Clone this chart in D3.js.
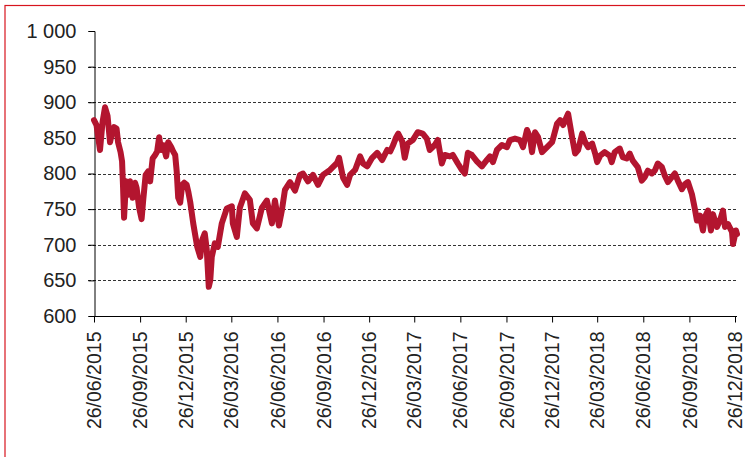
<!DOCTYPE html>
<html><head><meta charset="utf-8">
<script src="https://cdn.jsdelivr.net/npm/d3@7"></script>
<style>
html,body{margin:0;padding:0;background:#fff;}
svg{display:block;}
</style></head>
<body>
<svg id="chart" width="745" height="457"></svg>
<script>
// ---- data ----
const dates = [
"2015-06-26","2015-07-01","2015-07-08","2015-07-13","2015-07-18","2015-07-23","2015-07-28","2015-07-31",
"2015-08-05","2015-08-10","2015-08-13","2015-08-18","2015-08-21","2015-08-23","2015-08-25","2015-08-29",
"2015-09-02","2015-09-06","2015-09-11","2015-09-16","2015-09-19","2015-09-24","2015-09-29","2015-10-02",
"2015-10-07","2015-10-12","2015-10-16","2015-10-21","2015-10-26","2015-10-30","2015-11-03","2015-11-07",
"2015-11-11","2015-11-17","2015-11-21","2015-11-27","2015-12-01","2015-12-05","2015-12-08","2015-12-11",
"2015-12-15","2015-12-19","2015-12-23","2015-12-28","2015-12-31","2016-01-04","2016-01-10","2016-01-18",
"2016-01-24","2016-01-28","2016-02-02","2016-02-06","2016-02-10","2016-02-13","2016-02-16","2016-02-22",
"2016-02-28","2016-03-07","2016-03-17","2016-03-27","2016-03-29","2016-04-06","2016-04-12","2016-04-22",
"2016-05-02","2016-05-08","2016-05-16","2016-05-26","2016-06-05","2016-06-11","2016-06-15","2016-06-21",
"2016-06-29","2016-07-05","2016-07-11","2016-07-21","2016-07-31","2016-08-10","2016-08-16","2016-08-26",
"2016-09-05","2016-09-15","2016-09-25","2016-10-09","2016-10-23","2016-10-27","2016-11-04","2016-11-12",
"2016-11-18","2016-11-28","2016-12-08","2016-12-14","2016-12-22","2017-01-01","2017-01-11","2017-01-21",
"2017-01-31","2017-02-06","2017-02-12","2017-02-18","2017-02-22","2017-03-02","2017-03-07","2017-03-13",
"2017-03-23","2017-04-02","2017-04-12","2017-04-20","2017-04-26","2017-05-06","2017-05-12","2017-05-20",
"2017-05-26","2017-06-05","2017-06-11","2017-06-21","2017-06-29","2017-07-05","2017-07-11","2017-07-19",
"2017-07-29","2017-08-08","2017-08-18","2017-08-24","2017-08-30","2017-09-07","2017-09-17","2017-09-27",
"2017-10-03","2017-10-13","2017-10-23","2017-10-29","2017-11-06","2017-11-12","2017-11-16","2017-11-22",
"2017-11-28","2017-12-06","2017-12-16","2017-12-26","2017-12-28","2018-01-05","2018-01-11","2018-01-17",
"2018-01-27","2018-02-04","2018-02-10","2018-02-16","2018-02-24","2018-03-02","2018-03-08","2018-03-16",
"2018-03-22","2018-03-26","2018-04-01","2018-04-10","2018-04-20","2018-04-24","2018-04-30","2018-05-10",
"2018-05-16","2018-05-24","2018-05-30","2018-06-05","2018-06-15","2018-06-23","2018-06-29","2018-07-05",
"2018-07-13","2018-07-19","2018-07-25","2018-08-02","2018-08-08","2018-08-14","2018-08-22","2018-08-28",
"2018-09-03","2018-09-11","2018-09-17","2018-09-23","2018-10-01","2018-10-07","2018-10-11","2018-10-17",
"2018-10-23","2018-10-27","2018-11-02","2018-11-08","2018-11-12","2018-11-20","2018-11-26","2018-12-02",
"2018-12-06","2018-12-12","2018-12-20","2018-12-22","2018-12-28","2018-12-30"
];
const values = [
875,868,833,872,893,881,844,854,
865,863,844,830,817,780,738,789,
770,789,766,787,780,752,736,761,
798,803,789,821,826,831,851,833,
840,824,844,837,831,826,803,766,
759,784,787,784,775,760,730,697,
683,707,716,693,641,650,683,702,
697,730,751,754,730,711,752,772,
763,730,723,752,762,743,730,762,
727,749,777,788,776,798,800,789,
798,784,798,805,815,822,794,784,
798,805,824,814,810,822,829,819,
833,831,840,851,856,845,822,842,
847,858,856,849,833,840,847,814,
826,824,826,814,805,800,829,826,
817,810,819,824,816,833,840,837,
847,849,847,837,861,851,830,858,
851,830,837,844,849,870,875,868,
884,851,828,833,856,844,837,842,
828,816,825,830,825,816,830,835,
823,821,828,818,809,790,795,804,
800,804,814,809,797,788,795,800,
790,778,785,788,771,750,734,741,
720,739,748,720,743,725,734,748,
725,729,718,701,720,715
];
const yTicks = [600,650,700,750,800,850,900,950,1000];
const xTickDates = ["2015-06-26","2015-09-26","2015-12-26","2016-03-26","2016-06-26","2016-09-26","2016-12-26",
"2017-03-26","2017-06-26","2017-09-26","2017-12-26","2018-03-26","2018-06-26","2018-09-26","2018-12-26"];

// ---- drawing ----
const parse = d3.timeParse("%Y-%m-%d");
const fmt = d3.timeFormat("%d/%m/%Y");
const data = dates.map((d,i)=>({date:parse(d), value:values[i]}));
const svg = d3.select("#chart");

svg.append("rect").attr("x",5).attr("y",5.5).attr("width",760).attr("height",470)
  .attr("fill","none").attr("stroke","#d7141e").attr("stroke-width",1.2);

const x = d3.scaleTime().domain([parse("2015-06-26"), parse("2018-12-26")]).range([94, 735]);
const y = d3.scaleLinear().domain([600,1000]).range([316, 31]);

// gridlines
svg.append("g").selectAll("line").data(yTicks.filter(v=>v>600 && v<1000)).join("line")
  .attr("x1",88).attr("x2",737)
  .attr("y1",d=>Math.round(y(d))+0.5).attr("y2",d=>Math.round(y(d))+0.5)
  .attr("stroke","#333").attr("stroke-width",1).attr("stroke-dasharray","3,2");

const font = "'Liberation Sans', Arial, sans-serif";

// y axis
const yAxis = svg.append("g").attr("transform","translate(94.5,0)")
  .call(d3.axisLeft(y).tickValues(yTicks).tickSize(6).tickPadding(12)
    .tickFormat(d=>d3.format(",")(d).replace(",", " ")));
yAxis.selectAll("text").attr("font-family",font).attr("font-size",20).attr("fill","#222");
yAxis.select(".domain").attr("stroke","#000");
yAxis.selectAll(".tick line").attr("stroke","#000");

// x axis
const xAxis = svg.append("g").attr("transform","translate(0,316.5)")
  .call(d3.axisBottom(x).tickValues(xTickDates.map(parse)).tickSize(6).tickFormat(fmt));
xAxis.select(".domain").attr("stroke","#000").attr("d","M94,0H737");
xAxis.selectAll(".tick line").attr("stroke","#000");
xAxis.selectAll("text").attr("font-family",font).attr("font-size",19.5).attr("fill","#222")
  .attr("transform","rotate(-90)").attr("text-anchor","end")
  .attr("x",-15).attr("y",0).attr("dy","0.34em");

// line
svg.append("path").datum(data)
  .attr("fill","none").attr("stroke","#b3152f").attr("stroke-width",6)
  .attr("stroke-linejoin","round").attr("stroke-linecap","round")
  .attr("d", d3.line().x(d=>x(d.date)).y(d=>y(d.value)));
</script>
</body></html>
